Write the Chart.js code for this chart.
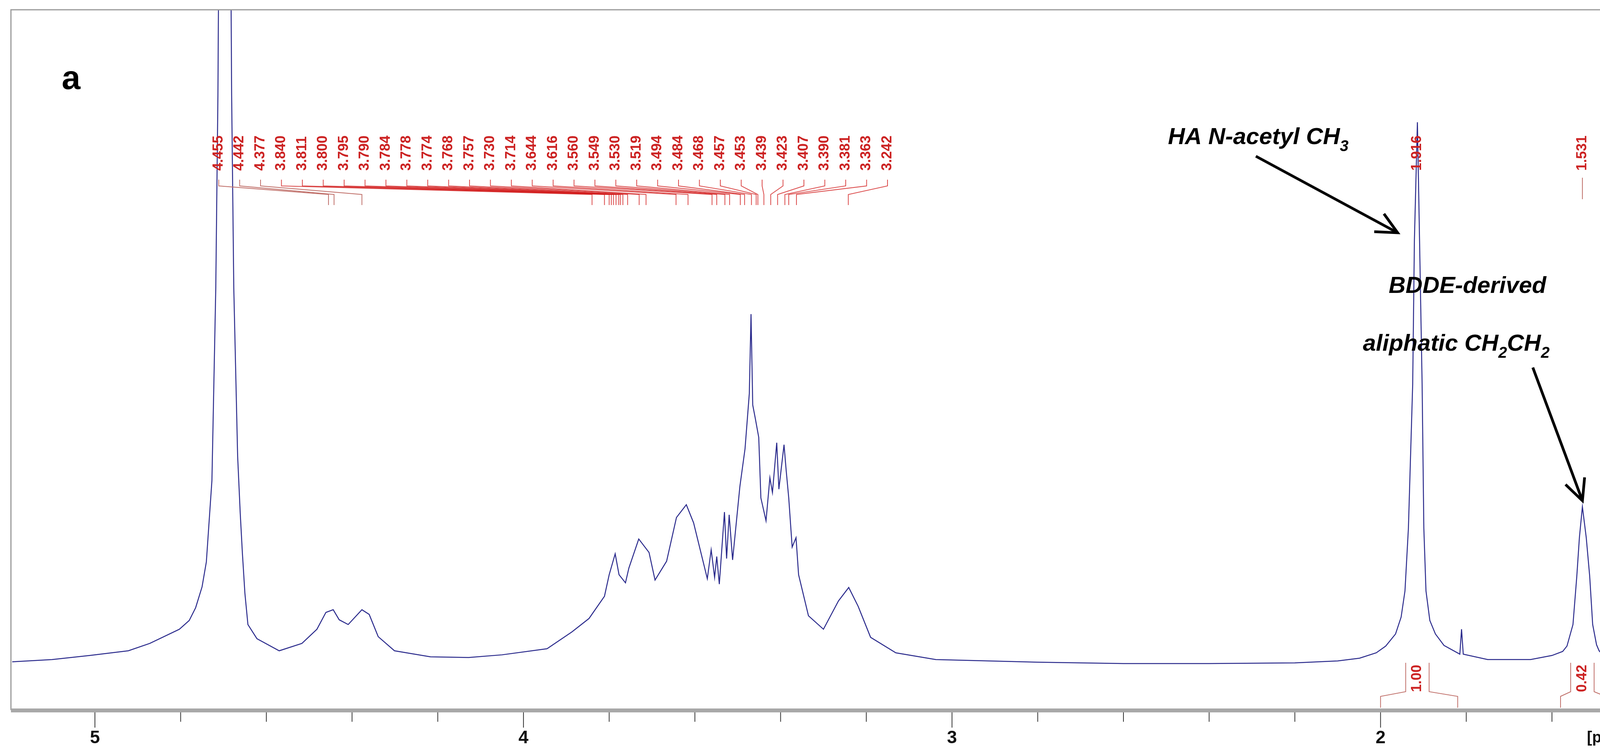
<!DOCTYPE html>
<html><head><meta charset="utf-8">
<script src="https://cdn.jsdelivr.net/npm/chart.js@4"></script>
<style>html,body{margin:0;padding:0;background:#fff;overflow:hidden}canvas{display:block}</style>
</head><body><canvas id="c" width="4325" height="1928" style="width:4325px;height:1928px"></canvas>
<script>
const ppm = [5.193,5.10,5.012,4.922,4.872,4.803,4.78,4.765,4.750,4.740,4.727,4.718,4.713,4.706,4.697,4.688,4.681,4.676,4.667,4.661,4.656,4.650,4.643,4.622,4.570,4.517,4.482,4.461,4.444,4.430,4.409,4.377,4.360,4.339,4.301,4.217,4.128,4.05,3.945,3.887,3.847,3.811,3.800,3.786,3.777,3.762,3.754,3.731,3.707,3.693,3.666,3.643,3.620,3.603,3.571,3.562,3.554,3.549,3.543,3.531,3.526,3.520,3.512,3.495,3.483,3.473,3.469,3.465,3.459,3.451,3.446,3.434,3.425,3.419,3.409,3.404,3.392,3.387,3.381,3.373,3.364,3.358,3.335,3.300,3.265,3.241,3.219,3.190,3.131,3.038,2.80,2.60,2.40,2.20,2.10,2.049,2.010,1.988,1.965,1.952,1.943,1.935,1.925,1.921,1.914,1.909,1.903,1.899,1.894,1.885,1.872,1.852,1.815,1.811,1.807,1.75,1.65,1.60,1.575,1.565,1.551,1.542,1.536,1.529,1.520,1.512,1.505,1.496,1.490,1.475,1.45,1.384];
const intensity = [0.0087,0.012,0.018,0.025,0.036,0.057,0.070,0.089,0.120,0.157,0.278,0.564,0.85,1.6,2.5,1.6,0.85,0.564,0.314,0.230,0.171,0.110,0.064,0.043,0.025,0.036,0.057,0.082,0.086,0.071,0.064,0.086,0.079,0.046,0.025,0.016,0.015,0.019,0.028,0.053,0.073,0.106,0.138,0.169,0.138,0.126,0.148,0.191,0.171,0.130,0.158,0.223,0.242,0.215,0.132,0.175,0.134,0.165,0.124,0.231,0.162,0.227,0.160,0.269,0.325,0.407,0.525,0.390,0.370,0.342,0.252,0.218,0.282,0.260,0.334,0.265,0.331,0.293,0.252,0.179,0.193,0.138,0.077,0.057,0.099,0.119,0.091,0.045,0.022,0.012,0.008,0.006,0.006,0.007,0.010,0.014,0.022,0.032,0.050,0.075,0.114,0.207,0.421,0.635,0.81,0.635,0.421,0.207,0.114,0.070,0.050,0.033,0.020,0.057,0.020,0.012,0.012,0.018,0.024,0.032,0.064,0.136,0.193,0.239,0.193,0.136,0.064,0.034,0.025,0.014,0.008,0.0035];
const peakLabels = ["4.455","4.442","4.377","3.840","3.811","3.800","3.795","3.790","3.784","3.778","3.774","3.768","3.757","3.730","3.714","3.644","3.616","3.560","3.549","3.530","3.519","3.494","3.484","3.468","3.457","3.453","3.439","3.423","3.407","3.390","3.381","3.363","3.242"];
const xTickLabels = ["5","4","3","2"];
const yTickLabels = ["-0.0","0.2","0.4","0.6","0.8"];
const integrals = [{from:2.0, to:1.82, center:1.914, label:"1.00"},{from:1.58, to:1.475, center:1.529, label:"0.42"}];

const RED = '#cc2222', BR='#c0706a';
const deco = {
  id:'deco',
  afterDraw(ch){
    const c=ch.ctx, xs=ch.scales.x, ys=ch.scales.y, a=ch.chartArea;
    c.save();
    c.strokeStyle='#999'; c.lineWidth=3;
    c.beginPath(); c.moveTo(a.left,a.bottom); c.lineTo(a.left,a.top); c.lineTo(a.right,a.top); c.stroke();
    c.fillStyle='#a8a8a8';
    c.fillRect(a.left,a.bottom-4,a.right-a.left+6,10);
    c.fillRect(a.right,a.top,8,a.bottom-a.top+6);
    c.strokeStyle='#333'; c.lineWidth=2;
    for(let v=1.4; v<=5.2; v+=0.2){
      const px=xs.getPixelForValue(v); if(px<a.left||px>a.right+2) continue;
      const major=Math.abs(v-Math.round(v))<1e-6;
      c.beginPath(); c.moveTo(px,a.bottom+6); c.lineTo(px,a.bottom+(major?45:30)); c.stroke();
    }
    c.fillStyle='#111'; c.font='bold 46px Arial'; c.textAlign='center'; c.textBaseline='middle';
    xTickLabels.forEach(t=>{c.fillText(t,xs.getPixelForValue(parseFloat(t)),a.bottom+72);});
    c.font='bold 40px Arial'; c.fillText('[ppm]',4118,a.bottom+72);
    for(let i=-1;i<=19;i++){
      const v=i*0.05; const py=ys.getPixelForValue(v); if(py<a.top||py>a.bottom) continue;
      const major=(i%4===0);
      c.beginPath(); c.moveTo(a.right+8,py); c.lineTo(a.right+(major?45:30),py); c.stroke();
    }
    c.font='bold 40px Arial';
    yTickLabels.forEach(t=>{const py=ys.getPixelForValue(parseFloat(t));
      c.save(); c.translate(a.right+82,py); c.rotate(-Math.PI/2); c.fillText(t,0,0); c.restore();});
    c.save(); c.translate(a.right+82,62); c.rotate(-Math.PI/2); c.font='bold 36px Arial'; c.fillText('[rel]',0,0); c.restore();
    c.font='bold 36px Arial'; c.textAlign='left';
    c.lineWidth=2;
    peakLabels.forEach((t,i)=>{
      const lx=560+53.5*i, tx=xs.getPixelForValue(parseFloat(t));
      c.fillStyle=RED;
      c.save(); c.translate(lx,437); c.rotate(-Math.PI/2); c.fillText(t,0,0); c.restore();
      c.strokeStyle=i<3?BR:'rgba(210,30,30,0.8)';
      c.beginPath(); c.moveTo(lx,460); c.lineTo(lx,476); c.lineTo(tx,498); c.lineTo(tx,525); c.stroke();
    });
    [["1.916",1.914],["1.531",1.529]].forEach(([t,v])=>{
      const lx=xs.getPixelForValue(v); c.fillStyle=RED;
      c.save(); c.translate(lx,437); c.rotate(-Math.PI/2); c.fillText(t,0,0); c.restore();
    });
    c.strokeStyle=BR; c.beginPath(); const q=xs.getPixelForValue(1.529); c.moveTo(q,455); c.lineTo(q,510); c.stroke();
    integrals.forEach(g=>{
      const l=xs.getPixelForValue(g.from), r=xs.getPixelForValue(g.to), m=xs.getPixelForValue(g.center);
      c.strokeStyle=BR; c.lineWidth=2;
      c.beginPath(); c.moveTo(l,1812); c.lineTo(l,1783); c.lineTo(m-30,1771); c.lineTo(m-30,1697); c.stroke();
      c.beginPath(); c.moveTo(m+30,1697); c.lineTo(m+30,1771); c.lineTo(r,1783); c.lineTo(r,1812); c.stroke();
      c.fillStyle=RED; c.font='bold 36px Arial'; c.textAlign='center';
      c.save(); c.translate(m,1737); c.rotate(-Math.PI/2); c.fillText(g.label,0,0); c.restore();
    });
    c.fillStyle='#000'; c.textAlign='left'; c.textBaseline='alphabetic';
    c.font='bold 86px Arial'; c.fillText('a',158,228);
    function sub(parts,x,y){ let cx=x; parts.forEach(([s,isSub])=>{ c.font=isSub?'italic bold 40px Arial':'italic bold 60px Arial'; c.fillText(s,cx,isSub?y+18:y); cx+=c.measureText(s).width;});}
    sub([["HA N-acetyl CH",0],["3",1]],2990,369);
    sub([["BDDE-derived",0]],3555,750);
    sub([["aliphatic CH",0],["2",1],["CH",0],["2",1]],3489,898);
    function arrow(x1,y1,x2,y2){ c.strokeStyle='#000'; c.lineWidth=7; c.beginPath(); c.moveTo(x1,y1); c.lineTo(x2,y2); c.stroke();
      const ang=Math.atan2(y2-y1,x2-x1), L=60; c.beginPath();
      c.moveTo(x2-L*Math.cos(ang-0.45),y2-L*Math.sin(ang-0.45)); c.lineTo(x2,y2); c.lineTo(x2-L*Math.cos(ang+0.45),y2-L*Math.sin(ang+0.45)); c.stroke();}
    arrow(3215,400,3578,596);
    arrow(3924,941,4051,1282);
    c.restore();
  }
};
new Chart(document.getElementById('c'),{
  type:'line',
  data:{datasets:[{data:ppm.map((p,i)=>({x:p,y:intensity[i]})),borderColor:'#2a2a8c',borderWidth:2.5,pointRadius:0,tension:0,fill:false}]},
  options:{responsive:false,maintainAspectRatio:false,animation:false,devicePixelRatio:1,
    layout:{padding:{left:28,top:25,right:0,bottom:0}},
    plugins:{legend:{display:false},tooltip:{enabled:false}},
    scales:{
      x:{type:'linear',reverse:true,min:1.384,max:5.196,grid:{display:false},border:{display:false},ticks:{display:false},afterFit(s){s.height=110;}},
      y:{position:'right',min:-0.063,max:0.977,grid:{display:false},border:{display:false},ticks:{display:false},afterFit(s){s.width=115;}}
    }},
  plugins:[deco]
});
</script></body></html>
